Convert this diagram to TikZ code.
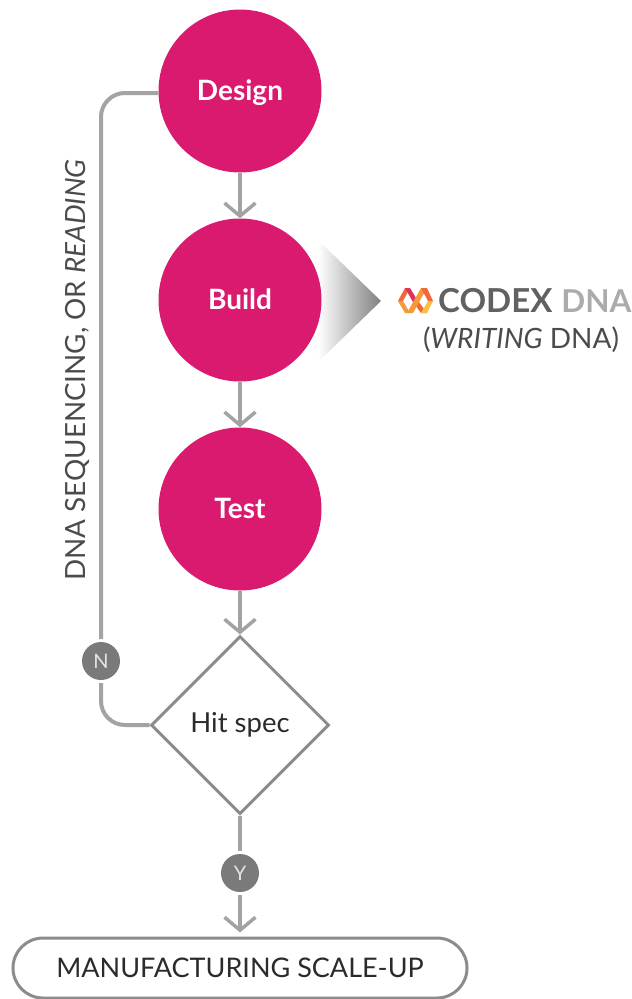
\documentclass[tikz,border=0pt]{standalone}
\usepackage{fontspec}
\setmainfont{Lato}
\usepackage{tikz}
\usetikzlibrary{arrows.meta, positioning, shapes.geometric, shapes.misc}
\definecolor{rose}{HTML}{DA1A6E}
\definecolor{lien}{HTML}{A3A3A3}
\definecolor{contour}{HTML}{8C8C8C}
\definecolor{pastille}{HTML}{7A7A7A}
\definecolor{encre}{HTML}{2B2B2B}
\definecolor{logoA}{HTML}{EE6A3C}
\definecolor{logoB}{HTML}{F59A3A}
\definecolor{logoC}{HTML}{FAC044}
\tikzset{
    etape/.style={circle, fill=rose, minimum size=163pt, inner sep=0pt, text=white, text height=18pt, text depth=0pt, font=\fontsize{28}{30}\selectfont\bfseries},
    fleche/.style={draw=lien, line width=4pt, -{Straight Barb[length=13pt, width=31pt, line width=3.5pt]}},
    lien/.style={draw=lien, line width=4pt},
    pastille/.style={circle, fill=pastille, minimum size=38pt, inner sep=0pt, outer sep=3pt, text=white!90!black, font=\fontsize{20}{22}\selectfont},
}
\begin{document}
\begin{tikzpicture}[x=1pt, y=-1pt]
    \useasboundingbox (0,0) rectangle (632,999);

    % Triangle degrade
    \shade[left color=white, right color=black!50] (318,240) -- (381,301) -- (318,362) -- cycle;

    % Etapes
    \node[etape] (design) at (240,91) {Design};
    \node[etape] (build) at (240,300) {Build};
    \node[etape] (test) at (240,509) {Test};

    % Decision
    \node[diamond, draw=contour, line width=3pt, aspect=1, minimum width=178pt, minimum height=178pt, inner sep=0pt,
        text=encre, font=\fontsize{27.5}{30}\selectfont] (hit) at (240,725) {Hit spec};
    \node[pastille] (non) at (101,661) {N};
    \node[pastille] (oui) at (240,873) {Y};
    \node[rounded rectangle, draw=contour, line width=3pt, minimum width=454pt, minimum height=60pt, inner sep=0pt,
        text=encre, font=\fontsize{27}{30}\selectfont] (scale) at (240,968) {MANUFACTURING SCALE-UP};

    % Liens
    \draw[fleche] (design) -- (build);
    \draw[fleche] (build) -- (test);
    \draw[fleche] (test) -- (hit);
    \draw[lien] (hit) -- (oui);
    \draw[fleche, shorten >=4pt] (oui) -- (scale);
    \draw[lien, rounded corners=24pt] ([yshift=-2pt]design.west) -| (non.north);
    \draw[lien, rounded corners=24pt] (non.south) |- (hit.west);

    % Texte vertical
    \node[rotate=90, text=encre!85, font=\fontsize{27.8}{30}\selectfont] (lecture) at (77,370) {DNA SEQUENCING, OR \textit{READING}};

    % Logo
    \fill[logoA] (398,301) -- (405,288) -- (410,288) -- (403,301) -- cycle;
    \fill[logoB] (398,301) -- (403,301) -- (410,313) -- (405,313) -- cycle;
    \fill[rose!70!logoA] (405,288) -- (410,288) -- (416,298) -- (413.5,303) -- cycle;
    \fill[logoA] (413.5,303) -- (416,298) -- (427,313) -- (421,313) -- cycle;
    \fill[logoB] (421,288) -- (427,288) -- (413,313) -- (407,313) -- cycle;
    \fill[logoA] (427,288) -- (433,301) -- (428,301) -- (421,288) -- cycle;
    \fill[logoC] (433,301) -- (427,313) -- (421,313) -- (428,301) -- cycle;

    % Marque
    \node[anchor=west, inner sep=0pt, text=black!62, font=\fontsize{33}{36}\selectfont\bfseries] (codex) at (438,301) {CODEX};
    \node[right=8.5pt of codex, inner sep=0pt, text=black!33, font=\fontsize{31.5}{36}\selectfont\bfseries] (dna) {DNA};
    \node[text=encre!85, font=\fontsize{28}{30}\selectfont] (ecriture) at (521,340) {(\textit{WRITING} DNA)};
\end{tikzpicture}
\end{document}
